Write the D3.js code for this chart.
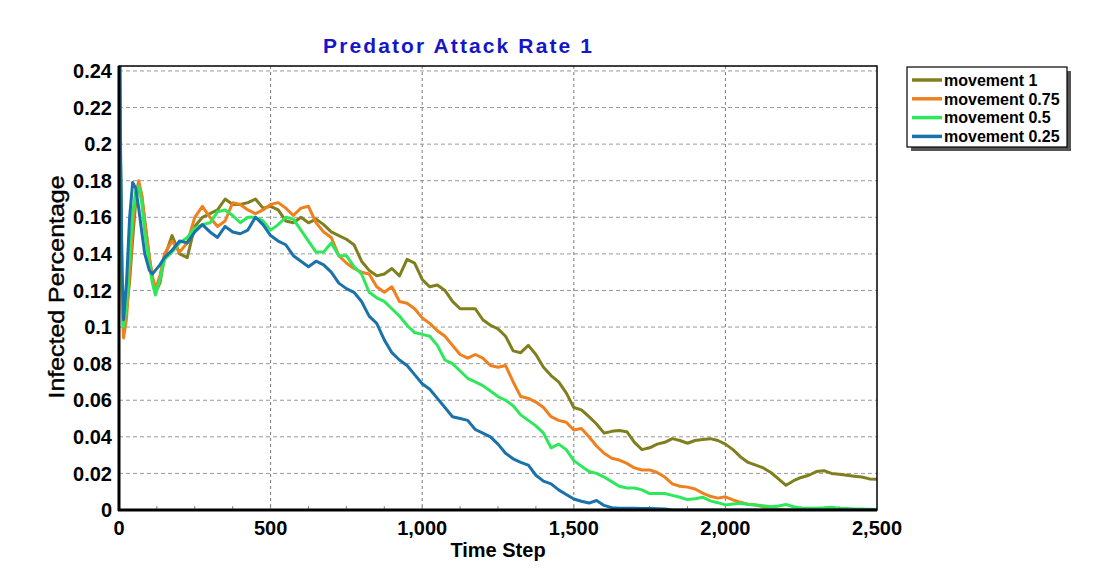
<!DOCTYPE html>
<html><head><meta charset="utf-8">
<script src="https://cdn.jsdelivr.net/npm/d3@7"></script>
<style>
html,body{margin:0;padding:0;background:#fff;}
svg{display:block;}
</style></head>
<body>
<svg id="chart" width="1099" height="580"></svg>
<script>
// ---- DATA ----
const title = "Predator Attack Rate 1";
const xLabel = "Time Step";
const yLabel = "Infected Percentage";
const seriesNames = ["movement 1", "movement 0.75", "movement 0.5", "movement 0.25"];
const seriesColors = ["#7f7f1e", "#f0801e", "#2ee85c", "#1a72ab"];
const xTicks = [0, 500, 1000, 1500, 2000, 2500];
const yTicks = [0, 0.02, 0.04, 0.06, 0.08, 0.1, 0.12, 0.14, 0.16, 0.18, 0.2, 0.22, 0.24];

const timeSteps = [
  0,5,10,15,25,35,45,55,65,75,
  85,100,110,120,135,150,
  175,200,225,250,275,300,325,350,375,400,
  425,450,475,500,525,550,575,600,625,650,
  675,700,725,750,775,800,825,850,875,900,
  925,950,975,1000,1025,1050,1075,1100,1125,1150,
  1175,1200,1225,1250,1275,1300,1325,1350,1375,1400,
  1425,1450,1475,1500,1525,1550,1575,1600,1625,1650,
  1675,1700,1725,1750,1775,1800,1825,1850,1875,1900,
  1925,1950,1975,2000,2025,2050,2075,2100,2125,2150,
  2175,2200,2225,2250,2275,2300,2325,2350,2375,2400,
  2425,2450,2475,2500
];

const movement1 = [
  0.30,0.19,0.125,0.108,0.110,0.125,0.148,0.168,0.178,0.172,
  0.158,0.138,0.127,0.119,0.124,0.138,
  0.150,0.140,0.138,0.155,0.160,0.162,0.164,0.170,0.167,0.167,
  0.168,0.170,0.165,0.166,0.164,0.158,0.157,0.160,0.157,0.159,
  0.156,0.152,0.150,0.148,0.145,0.136,0.131,0.128,0.129,0.132,
  0.128,0.137,0.135,0.126,0.122,0.123,0.120,0.114,0.110,0.110,
  0.110,0.104,0.101,0.099,0.095,0.087,0.086,0.090,0.085,0.078,
  0.0735,0.070,0.064,0.056,0.0547,0.051,0.047,0.042,0.043,0.0435,
  0.0428,0.037,0.033,0.034,0.036,0.037,0.039,0.038,0.0365,0.038,
  0.0385,0.039,0.038,0.036,0.033,0.029,0.026,0.0245,0.023,0.0205,
  0.017,0.0135,0.016,0.0178,0.019,0.021,0.0215,0.020,0.0195,0.019,
  0.0185,0.018,0.017,0.0168
];
const movement075 = [
  0.30,0.18,0.11,0.094,0.105,0.130,0.155,0.172,0.180,0.172,
  0.158,0.138,0.128,0.121,0.128,0.140,
  0.147,0.141,0.146,0.160,0.166,0.160,0.155,0.158,0.168,0.167,
  0.164,0.162,0.164,0.167,0.168,0.165,0.161,0.165,0.166,0.157,
  0.152,0.149,0.139,0.135,0.132,0.130,0.129,0.122,0.119,0.122,
  0.114,0.113,0.110,0.105,0.102,0.098,0.095,0.090,0.085,0.083,
  0.085,0.083,0.079,0.078,0.079,0.070,0.062,0.061,0.059,0.056,
  0.051,0.049,0.048,0.0437,0.0445,0.040,0.035,0.031,0.0283,0.0273,
  0.0255,0.023,0.0219,0.0219,0.0205,0.018,0.0143,0.013,0.0125,0.0115,
  0.0092,0.0075,0.0065,0.0072,0.0055,0.0042,0.0032,0.0027,0.0018,0.0009,
  0.0004,0.0002,0,0,0,0,0,0,0,0,
  0,0,0,0
];
const movement05 = [
  0.30,0.19,0.12,0.100,0.112,0.140,0.162,0.174,0.177,0.168,
  0.152,0.134,0.124,0.1175,0.126,0.137,
  0.141,0.146,0.149,0.154,0.156,0.157,0.163,0.164,0.161,0.157,
  0.160,0.160,0.158,0.153,0.156,0.160,0.159,0.153,0.147,0.141,
  0.141,0.146,0.139,0.139,0.133,0.129,0.119,0.116,0.114,0.110,
  0.106,0.101,0.097,0.096,0.095,0.090,0.082,0.080,0.076,0.072,
  0.070,0.068,0.065,0.062,0.060,0.057,0.052,0.049,0.046,0.042,
  0.034,0.036,0.033,0.027,0.024,0.021,0.020,0.018,0.0155,0.013,
  0.012,0.012,0.011,0.009,0.009,0.009,0.008,0.007,0.0057,0.0062,
  0.007,0.005,0.004,0.0028,0.0033,0.0037,0.003,0.0027,0.0023,0.0018,
  0.0022,0.003,0.0018,0.001,0.0009,0.001,0.0012,0.0015,0.001,0.0008,
  0.0006,0.0005,0.0004,0.0003
];
const movement025 = [
  0.30,0.20,0.13,0.104,0.125,0.160,0.179,0.176,0.165,0.152,
  0.140,0.131,0.129,0.131,0.134,0.138,
  0.142,0.147,0.146,0.152,0.156,0.152,0.149,0.155,0.152,0.151,
  0.153,0.160,0.156,0.150,0.147,0.145,0.139,0.136,0.133,0.136,
  0.134,0.130,0.124,0.121,0.119,0.114,0.106,0.102,0.093,0.086,
  0.082,0.079,0.074,0.069,0.066,0.061,0.056,0.051,0.050,0.049,
  0.044,0.042,0.040,0.036,0.031,0.028,0.026,0.0245,0.019,0.0158,
  0.0143,0.011,0.0085,0.006,0.0048,0.0038,0.0052,0.0025,0.0013,0.001,
  0.0009,0.0009,0.0008,0.0008,0.0007,0.0006,0,0,0,0,
  0,0,0,0,0,0,0,0,0,0,
  0,0,0,0,0,0,0,0,0,0,
  0,0,0,0
];
const seriesValues = [movement1, movement075, movement05, movement025];

// ---- LAYOUT ----
const svg = d3.select("#chart");
const L = 119, R = 877, T = 66, B = 510;
const x = d3.scaleLinear().domain([0, 2500]).range([L, R]);
const y = d3.scaleLinear().domain([0, 0.2427]).range([B, T]);
const tickFont = "'Liberation Sans Narrow','Arial Narrow','Liberation Sans',Arial,sans-serif";
const mainFont = "'Liberation Sans',Arial,sans-serif";

svg.append("defs").append("clipPath").attr("id", "plotclip")
  .append("rect").attr("x", L).attr("y", T).attr("width", R - L).attr("height", B - T);

// horizontal grid
svg.append("g").selectAll("line").data(yTicks.filter(d => d > 0)).join("line")
  .attr("x1", L).attr("x2", R).attr("y1", d => y(d)).attr("y2", d => y(d))
  .attr("stroke", "#9a9a9a").attr("stroke-width", 1).attr("stroke-dasharray", "4,3");
// vertical grid
svg.append("g").selectAll("line").data(xTicks.filter(d => d > 0 && d < 2500)).join("line")
  .attr("x1", d => x(d)).attr("x2", d => x(d)).attr("y1", T).attr("y2", B)
  .attr("stroke", "#7a7a7a").attr("stroke-width", 1).attr("stroke-dasharray", "3,3");

// minor x ticks
const minorX = d3.range(125, 2500, 125);
svg.append("g").selectAll("line").data(minorX).join("line")
  .attr("x1", d => x(d)).attr("x2", d => x(d)).attr("y1", B - 4).attr("y2", B)
  .attr("stroke", "#888").attr("stroke-width", 1);

// lines
const line = d3.line().x((d, i) => x(timeSteps[i])).y(d => y(d));
const lg = svg.append("g").attr("clip-path", "url(#plotclip)");
seriesValues.forEach((vals, k) => {
  lg.append("path").datum(vals).attr("d", line)
    .attr("fill", "none").attr("stroke", seriesColors[k])
    .attr("stroke-width", 3).attr("stroke-linejoin", "round");
});

// frame
svg.append("rect").attr("x", L).attr("y", T).attr("width", R - L).attr("height", B - T)
  .attr("fill", "none").attr("stroke", "#000").attr("stroke-width", 1.5);
svg.append("line").attr("x1", L).attr("x2", L).attr("y1", T).attr("y2", B + 1)
  .attr("stroke", "#000").attr("stroke-width", 3);
svg.append("line").attr("x1", L - 1).attr("x2", R).attr("y1", B).attr("y2", B)
  .attr("stroke", "#000").attr("stroke-width", 3);

// y tick labels
svg.append("g").selectAll("text").data(yTicks).join("text")
  .attr("x", 112).attr("y", d => y(d)).attr("dy", "0.36em")
  .attr("text-anchor", "end").attr("font-family", tickFont).attr("font-weight", "bold")
  .attr("font-size", 20).attr("fill", "#000")
  .text(d => d3.format("~g")(d));

// x tick labels
svg.append("g").selectAll("text").data(xTicks).join("text")
  .attr("x", d => x(d)).attr("y", 535)
  .attr("text-anchor", "middle").attr("font-family", tickFont).attr("font-weight", "bold")
  .attr("font-size", 20).attr("fill", "#000")
  .text(d => d3.format(",")(d));

// axis titles
svg.append("text").attr("x", 498).attr("y", 557).attr("text-anchor", "middle")
  .attr("font-family", tickFont).attr("font-weight", "bold").attr("font-size", 20)
  .attr("fill", "#000").text(xLabel);
svg.append("text").attr("transform", "translate(64,287) rotate(-90)")
  .attr("text-anchor", "middle").attr("font-family", mainFont).attr("font-size", 22)
  .attr("fill", "#000").attr("stroke", "#000").attr("stroke-width", 0.4)
  .attr("textLength", 223).attr("lengthAdjust", "spacingAndGlyphs")
  .text(yLabel);

// title
svg.append("text").attr("x", 323).attr("y", 53)
  .attr("font-family", mainFont).attr("font-weight", "bold").attr("font-size", 21)
  .attr("fill", "#1616c8").attr("textLength", 269).attr("lengthAdjust", "spacing")
  .text(title);

// legend
const lgx = 907, lgy = 67, lgw = 160, lgh = 80;
svg.append("rect").attr("x", lgx + 4).attr("y", lgy + 4).attr("width", lgw).attr("height", lgh)
  .attr("fill", "#555");
svg.append("rect").attr("x", lgx).attr("y", lgy).attr("width", lgw).attr("height", lgh)
  .attr("fill", "#fff").attr("stroke", "#000").attr("stroke-width", 1.2);
const leg = svg.append("g").selectAll("g").data(seriesNames).join("g")
  .attr("transform", (d, i) => `translate(0,${80 + i * 18.8})`);
leg.append("line").attr("x1", 912).attr("x2", 942).attr("y1", 0).attr("y2", 0)
  .attr("stroke", (d, i) => seriesColors[i]).attr("stroke-width", 3.5);
leg.append("text").attr("x", 944).attr("y", 0).attr("dy", "0.36em")
  .attr("font-family", mainFont).attr("font-weight", "bold").attr("font-size", 16)
  .attr("fill", "#000").text(d => d);
</script>
</body></html>
